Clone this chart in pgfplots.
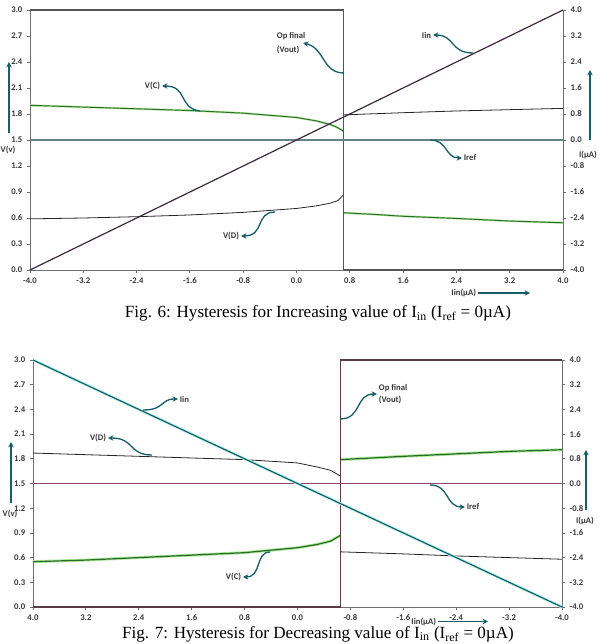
\documentclass[border=0pt]{standalone}
\usepackage{fontspec}
\setmainfont{Liberation Serif}
\newfontfamily\carlito{Carlito}
\usepackage{pgfplots}
\pgfplotsset{compat=1.18}
\usetikzlibrary{arrows.meta}

\definecolor{axgray}{RGB}{110,110,110}
\definecolor{tk}{RGB}{55,55,55}
\definecolor{iinA}{RGB}{60,40,60}
\definecolor{irefA}{RGB}{100,130,135}
\definecolor{gdark}{RGB}{45,105,45}
\definecolor{glow}{RGB}{170,235,150}
\definecolor{voutA}{RGB}{85,85,85}
\definecolor{iinB}{RGB}{25,95,95}
\definecolor{iglow}{RGB}{185,245,245}
\definecolor{irefB}{RGB}{140,70,110}
\definecolor{voutB}{RGB}{90,60,70}
\definecolor{arr}{RGB}{25,95,105}

\pgfplotsset{
  base/.style={scale only axis, clip=false, tick align=outside, major tick length=2.2pt,
    axis line style={axgray, line width=0.7pt}, tick style={axgray, line width=0.6pt},
    ticklabel style={font=\carlito\bfseries\fontsize{6.5}{7}\selectfont, text=tk},
    /pgf/number format/fixed, /pgf/number format/fixed zerofill,
    /pgf/number format/precision=1, /pgf/number format/assume math mode=true},
  xt/.style={xtick={-4,-3.2,-2.4,-1.6,-0.8,0,0.8,1.6,2.4,3.2,4}},
  ytv/.style={ytick={0,0.3,0.6,0.9,1.2,1.5,1.8,2.1,2.4,2.7,3.0}},
  yti/.style={ytick={-4,-3.2,-2.4,-1.6,-0.8,0,0.8,1.6,2.4,3.2,4}},
}
\tikzset{lab/.style={font=\carlito\bfseries\fontsize{6.5}{7}\selectfont, text=tk, inner sep=0.5pt},
  ar/.style={arr, line width=1pt, -{Stealth[length=4pt,width=4pt]}}}

\begin{document}
\begin{tikzpicture}[x=0.75pt,y=0.75pt]
\path[use as bounding box] (0,0) rectangle (600,644);
% ================= TOP CHART (Fig. 6) =================
\begin{axis}[base, xt, ytv, at={(22.5pt,280.5pt)}, anchor=south west, width=399.75pt, height=195pt,
  xmin=-4, xmax=4, ymin=0, ymax=3, axis x line*=bottom, axis y line*=left]
% V(C)
\addplot[glow, line width=1.6pt] coordinates {(-4,1.90)(-3.2,1.88)(-2.4,1.86)(-1.6,1.84)(-0.8,1.81)(0,1.76)(0.3,1.72)(0.5,1.68)(0.6,1.65)(0.71,1.60)};
\addplot[gdark, line width=0.7pt] coordinates {(-4,1.90)(-3.2,1.88)(-2.4,1.86)(-1.6,1.84)(-0.8,1.81)(0,1.76)(0.3,1.72)(0.5,1.68)(0.6,1.65)(0.71,1.60)};
\addplot[glow, line width=1.6pt] coordinates {(0.71,0.66)(1.2,0.64)(1.6,0.62)(2.4,0.595)(3.2,0.565)(4,0.545)};
\addplot[gdark, line width=0.7pt] coordinates {(0.71,0.66)(1.2,0.64)(1.6,0.62)(2.4,0.595)(3.2,0.565)(4,0.545)};
% V(D)
\addplot[black!85, line width=0.6pt] coordinates {(-4,0.59)(-3.2,0.60)(-2.4,0.615)(-1.6,0.635)(-0.8,0.665)(0,0.71)(0.3,0.74)(0.5,0.77)(0.62,0.80)(0.71,0.87)};
\addplot[black!85, line width=0.6pt] coordinates {(0.71,1.79)(1.6,1.815)(2.4,1.835)(3.2,1.85)(4,1.865)};
% Vout
\addplot[voutA, line width=0.8pt] coordinates {(-4,3)(0.71,3)(0.71,0)(4,0)};
\end{axis}
\begin{axis}[base, yti, at={(22.5pt,280.5pt)}, anchor=south west, width=399.75pt, height=195pt,
  xmin=-4, xmax=4, ymin=-4, ymax=4, axis x line=none, axis y line*=right]
\addplot[irefA, line width=0.8pt] coordinates {(-4,0)(4,0)};
\addplot[iinA, line width=0.9pt] coordinates {(-4,-4)(4,4)};
\end{axis}
% annotations top
\draw[ar] (200,533) .. controls (178,536) and (188,558) .. (162,558);
\node[lab, anchor=east] at (161,558) {V(C)};
\draw[ar] (344,571) .. controls (322,571) and (325,596) .. (303,601);
\node[lab, anchor=west] at (276,608) {Op final};
\node[lab, anchor=west] at (276,594) {(Vout)};
\draw[ar] (473,591) .. controls (450,591) and (455,609) .. (433,609);
\node[lab, anchor=east] at (432,609) {Iin};
\draw[ar] (430,504) .. controls (448,504) and (445,486) .. (462,486);
\node[lab, anchor=west] at (463,486) {Iref};
\draw[ar] (275,432) .. controls (255,432) and (265,408) .. (241,408);
\node[lab, anchor=east] at (240,408) {V(D)};
\draw[ar] (9,511) -- (9,582);
\node[lab] at (8,494) {V(v)};
\draw[ar] (590,504) -- (590,574);
\node[lab] at (588,489) {I(µA)};
\draw[ar] (478,351) -- (530,351);
\node[lab, anchor=east] at (477,351) {Iin(µA)};
\node[anchor=base, font=\fontsize{12.8}{15}\selectfont] at (318,326) {Fig. 6: Hysteresis for Increasing value of I\textsubscript{in} (I\textsubscript{ref} = 0µA)};
% ================= BOTTOM CHART (Fig. 7) =================
\begin{axis}[base, xt, ytv, at={(24.75pt,27.75pt)}, anchor=south west, width=396.75pt, height=185.25pt,
  xmin=-4, xmax=4, ymin=0, ymax=3, x dir=reverse, axis x line*=bottom, axis y line*=left]
% V(D)
\addplot[black!85, line width=0.6pt] coordinates {(4,1.87)(3.2,1.85)(2.4,1.83)(1.6,1.81)(0.8,1.79)(0,1.75)(-0.3,1.70)(-0.5,1.66)(-0.65,1.59)};
\addplot[black!85, line width=0.6pt] coordinates {(-0.65,0.67)(-1.6,0.645)(-2.4,0.62)(-3.2,0.60)(-4,0.58)};
% V(C)
\addplot[glow, line width=2.2pt] coordinates {(4,0.55)(3.2,0.57)(2.4,0.60)(1.6,0.63)(0.8,0.66)(0,0.72)(-0.3,0.76)(-0.5,0.80)(-0.65,0.87)};
\addplot[gdark, line width=0.9pt] coordinates {(4,0.55)(3.2,0.57)(2.4,0.60)(1.6,0.63)(0.8,0.66)(0,0.72)(-0.3,0.76)(-0.5,0.80)(-0.65,0.87)};
\addplot[glow, line width=2.2pt] coordinates {(-0.65,1.79)(-1.6,1.83)(-2.4,1.86)(-3.2,1.89)(-4,1.91)};
\addplot[gdark, line width=0.9pt] coordinates {(-0.65,1.79)(-1.6,1.83)(-2.4,1.86)(-3.2,1.89)(-4,1.91)};
% Vout
\addplot[voutB, line width=0.8pt] coordinates {(4,0)(-0.65,0)(-0.65,3)(-4,3)};
\end{axis}
\begin{axis}[base, yti, at={(24.75pt,27.75pt)}, anchor=south west, width=396.75pt, height=185.25pt,
  xmin=-4, xmax=4, ymin=-4, ymax=4, x dir=reverse, axis x line=none, axis y line*=right]
\addplot[irefB, line width=0.8pt] coordinates {(4,0)(-4,0)};
\addplot[iglow, line width=2.2pt] coordinates {(4,4)(-4,-4)};
\addplot[iinB, line width=0.9pt] coordinates {(4,4)(-4,-4)};
\end{axis}
% annotations bottom
\draw[ar] (143,234) .. controls (165,234) and (160,245) .. (178,245);
\node[lab, anchor=west] at (179,245) {Iin};
\draw[ar] (152,189) .. controls (128,189) and (135,206) .. (108,206);
\node[lab, anchor=east] at (107,206) {V(D)};
\draw[ar] (340,225) .. controls (362,225) and (355,250) .. (377,250);
\node[lab, anchor=west] at (378,256) {Op final};
\node[lab, anchor=west] at (378,244) {(Vout)};
\draw[ar] (430,159) .. controls (450,159) and (445,137) .. (465,137);
\node[lab, anchor=west] at (466,137) {Iref};
\draw[ar] (270,92) .. controls (255,92) and (262,67) .. (243,67);
\node[lab, anchor=east] at (242,67) {V(C)};
\draw[ar] (11,141) -- (11,202);
\node[lab] at (10,130) {V(v)};
\draw[ar] (586,134) -- (586,194);
\node[lab] at (585,123) {I(µA)};
\draw[ar] (438,22.5) -- (488,22.5);
\node[lab, anchor=east] at (437,22.5) {Iin(µA)};
\node[anchor=base, font=\fontsize{12.8}{15}\selectfont] at (318,5.5) {Fig. 7: Hysteresis for Decreasing value of I\textsubscript{in} (I\textsubscript{ref} = 0µA)};
\end{tikzpicture}
\end{document}
